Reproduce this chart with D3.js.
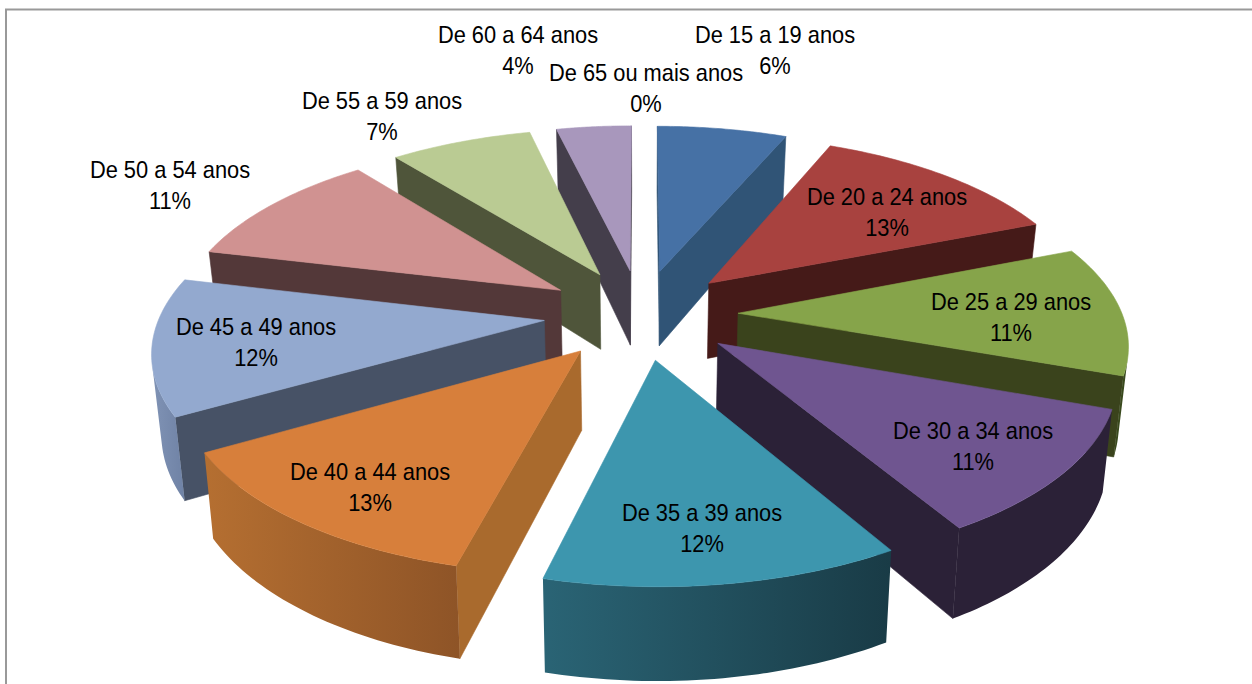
<!DOCTYPE html>
<html>
<head>
<meta charset="utf-8">
<script src="https://cdn.jsdelivr.net/npm/d3@7/dist/d3.min.js"></script>
<style>
  html, body { margin: 0; background: #fff; }
  text { font-family: "Liberation Sans", Arial, sans-serif; font-size: 24px; fill: #000; }
</style>
</head>
<body>
<svg id="chart" width="1252" height="684"></svg>
<script>
const categories = ['De 15 a 19 anos', 'De 20 a 24 anos', 'De 25 a 29 anos', 'De 30 a 34 anos', 'De 35 a 39 anos',
    'De 40 a 44 anos', 'De 45 a 49 anos', 'De 50 a 54 anos', 'De 55 a 59 anos', 'De 60 a 64 anos', 'De 65 ou mais anos']
// the labels show these rounded
const shares = [6.4, 12.6, 11.45, 11.05, 12.45, 12.75, 12.05, 10.55, 7, 3.7, 0]

const topColors = ['#4671a5', '#a8423f', '#86a44a', '#6f5590', '#3d96ae', '#d77f3b', '#93a9cf', '#d09291', '#bacb93', '#a897bc', '#888888']
const cutColors = ['#305476', '#451a18', '#3a431c', '#2b2137', '#1a3f4a', '#a96a2d', '#475266', '#533839', '#4f553a', '#443e4b', '#444444']
const rimLeft = ['#305476', '#451a18', '#3a4a1e', '#2b2137', '#2a6475', '#b56f31', '#8093b5', '#533839', '#4f553a', '#443e4b', '#444444']
const rimRight = ['#305476', '#451a18', '#3a4a1e', '#2b2137', '#193b46', '#8e5427', '#6f82a5', '#533839', '#4f553a', '#443e4b', '#444444']

// label centres, one per category
const labelX = [775, 887, 1011, 973, 702, 370, 256, 170, 382, 518, 646]
const labelY = [43, 205, 310, 439, 521, 480, 335, 178, 109, 43, 81]

const cx = 641, cy = 314
const radiusX = 384, radiusY = 178, explode = 0.253, perspective = 0.147, height = 77
// the underside sits a little further from the camera, walls lean inwards
const bottomScale = 0.98

const svg = d3.select('#chart')
const defs = svg.append('defs')

// frame: left and top edges only, the rest is cut off by the picture
svg.append('path')
    .attr('d', 'M6 684V9.5H1252')
    .attr('fill', 'none')
    .attr('stroke', '#999999')
    .attr('stroke-width', 2)

const project = (u, v, down) => {
    const s = 1 / (1 + perspective * v)
    return [cx + s * radiusX * u * (down ? bottomScale : 1), cy - s * radiusY * v + (down ? s * height : 0)]
}

const toPath = d3.line()

const slices = d3.pie().sort(null).value(d => d)(shares)
    .map((s, i) => ({ ...s, i, mid: (s.startAngle + s.endAngle) / 2 }))
    .filter(s => s.value > 0)
    .sort((a, b) => Math.cos(b.mid) - Math.cos(a.mid))

slices.forEach(s => {
    const ou = explode * Math.sin(s.mid), ov = explode * Math.cos(s.mid)
    const g = svg.append('g')
    const steps = d3.range(0, 41).map(k => s.startAngle + (s.endAngle - s.startAngle) * k / 40)
    const rim = steps.map(a => [ou + Math.sin(a), ov + Math.cos(a)])
    const tip = [ou, ov]

    const facesViewer = (p, q) => d3.polygonArea([
        project(p[0], p[1]), project(q[0], q[1]), project(q[0], q[1], true), project(p[0], p[1], true)
    ]) > 0

    const addCut = (p, q) => {
        if (!facesViewer(p, q)) return
        g.append('path')
            .attr('d', toPath([project(p[0], p[1]), project(q[0], q[1]), project(q[0], q[1], true), project(p[0], p[1], true)]) + 'Z')
            .attr('fill', cutColors[s.i])
            .attr('stroke', cutColors[s.i])
            .attr('stroke-width', 0.6)
    }

    addCut(tip, rim[0])
    addCut(rim[rim.length - 1], tip)

    // outer wall: only the run of the rim that faces the viewer
    const seen = rim.filter((p, k) => (k < rim.length - 1 && facesViewer(p, rim[k + 1])) || (k > 0 && facesViewer(rim[k - 1], p)))
    if (seen.length > 1) {
        const outline = [...seen.map(p => project(p[0], p[1])), ...seen.map(p => project(p[0], p[1], true)).reverse()]
        const [x0, x1] = d3.extent(outline, p => p[0])
        const grad = defs.append('linearGradient')
            .attr('id', 'rim-' + s.i)
            .attr('gradientUnits', 'userSpaceOnUse')
            .attr('x1', x0).attr('x2', x1).attr('y1', 0).attr('y2', 0)
        grad.append('stop').attr('offset', 0).attr('stop-color', rimLeft[s.i])
        grad.append('stop').attr('offset', 1).attr('stop-color', rimRight[s.i])
        g.append('path')
            .attr('d', toPath(outline) + 'Z')
            .attr('fill', `url(#rim-${s.i})`)
    }

    g.append('path')
        .attr('d', toPath([tip, ...rim].map(p => project(p[0], p[1]))) + 'Z')
        .attr('fill', topColors[s.i])
        .attr('stroke', topColors[s.i])
        .attr('stroke-width', 0.6)
})

categories.forEach((name, i) => {
    const addLine = (str, y) => svg.append('text')
        .attr('text-anchor', 'middle')
        .attr('transform', `translate(${labelX[i]},${y}) scale(0.91,1)`)
        .text(str)
    addLine(name, labelY[i])
    addLine(d3.format('.0f')(shares[i]) + '%', labelY[i] + 31)
})
</script>
</body>
</html>
